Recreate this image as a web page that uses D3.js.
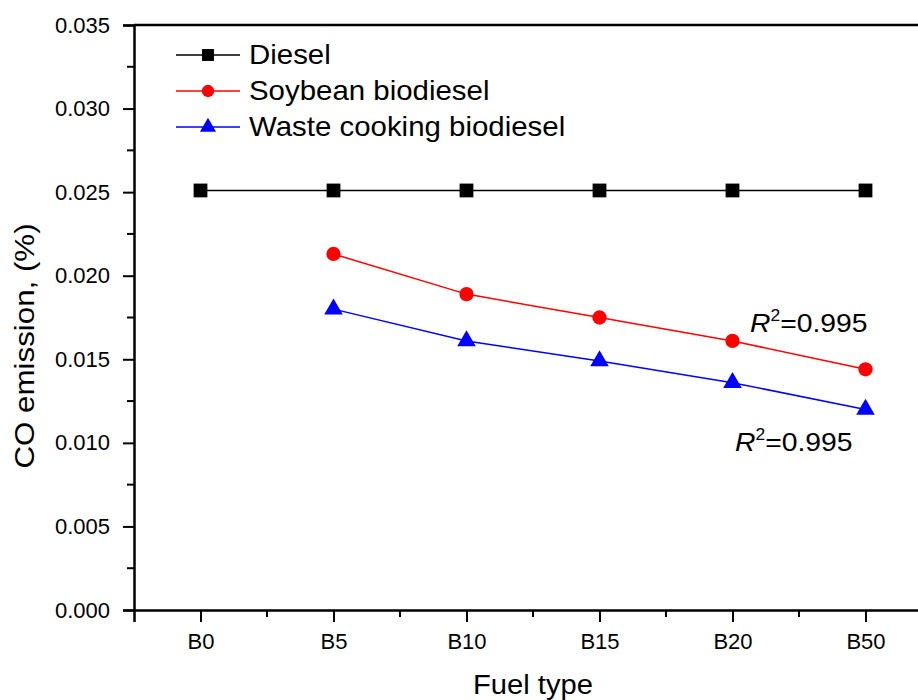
<!DOCTYPE html>
<html lang="en">
<head>
    <meta charset="UTF-8">
    <title>CO emission by fuel type</title>
    <style>
        body {
            margin: 0;
            background-color: #FFFFFF;
        }
        svg text {
            font-family: Arial, "Liberation Sans", sans-serif;
        }
    </style>
</head>
<body>
    <div id="chart"></div>

    <script src="https://d3js.org/d3.v7.min.js"></script>
    <script>
        const width = 918;
        const height = 700;

        // Chart data
        const fuelTypes = ["B0", "B5", "B10", "B15", "B20", "B50"];
        const diesel = [0.0251, 0.0251, 0.0251, 0.0251, 0.0251, 0.0251];
        const soybean = [null, 0.0213, 0.0189, 0.0175, 0.0161, 0.0144];
        const wasteCooking = [null, 0.0180, 0.0161, 0.0149, 0.0136, 0.0120];
        const yTicks = [0, 0.005, 0.010, 0.015, 0.020, 0.025, 0.030, 0.035];
        const r2Labels = ["=0.995", "=0.995"];

        const series = [
            { name: "Diesel", values: diesel, color: "#000000", symbol: d3.symbolSquare, size: 190 },
            { name: "Soybean biodiesel", values: soybean, color: "#FF0000", symbol: d3.symbolCircle, size: 160 },
            { name: "Waste cooking biodiesel", values: wasteCooking, color: "#0000FF", symbol: d3.symbolTriangle, size: 150 }
        ];

        const plotLeft = 134, plotTop = 25, plotBottom = 610;

        const svg = d3.select("#chart")
            .append("svg")
            .attr("width", width)
            .attr("height", height);

        // x runs half a category past each end, the right end is cut by the window
        const x = d3.scaleLinear()
            .domain([-0.5, fuelTypes.length - 0.5])
            .range([plotLeft, plotLeft + 133 * fuelTypes.length]);

        const y = d3.scaleLinear()
            .domain([0, 0.035])
            .range([plotBottom, plotTop]);

        // Top frame
        svg.append("line")
            .attr("x1", plotLeft).attr("x2", width)
            .attr("y1", plotTop).attr("y2", plotTop)
            .attr("stroke", "#000").attr("stroke-width", 2.5);

        // Y axis
        const yAxis = svg.append("g")
            .attr("transform", `translate(${plotLeft},0)`)
            .call(d3.axisLeft(y).tickValues(yTicks).tickFormat(d3.format(".3f")).tickSize(11).tickPadding(13));

        // minor y ticks
        yAxis.selectAll(".minor")
            .data(d3.range(0.0025, 0.035, 0.005))
            .enter().append("line")
            .attr("x1", -7).attr("x2", 0)
            .attr("y1", d => y(d)).attr("y2", d => y(d))
            .attr("stroke", "#000").attr("stroke-width", 2);

        // X axis
        const xAxis = svg.append("g")
            .attr("transform", `translate(0,${plotBottom})`)
            .call(d3.axisBottom(x).tickValues(d3.range(fuelTypes.length)).tickFormat(i => fuelTypes[i]).tickSize(12).tickPadding(11));

        xAxis.selectAll(".minor")
            .data(d3.range(0.5, fuelTypes.length, 1))
            .enter().append("line")
            .attr("x1", d => x(d)).attr("x2", d => x(d))
            .attr("y1", 0).attr("y2", 7)
            .attr("stroke", "#000").attr("stroke-width", 2);

        svg.selectAll(".domain").attr("stroke-width", 2.5);
        svg.selectAll(".tick line").attr("stroke-width", 2);
        svg.selectAll(".tick text")
            .attr("font-size", "22px")
            .attr("fill", "#000");

        // Axis titles (slightly wide lettering, like the original)
        svg.append("text")
            .attr("transform", "translate(533,694) scale(1.08,1)")
            .attr("text-anchor", "middle")
            .attr("font-size", "27px")
            .text("Fuel type");

        svg.append("text")
            .attr("transform", "translate(34,346) rotate(-90) scale(1.16,1)")
            .attr("text-anchor", "middle")
            .attr("font-size", "27px")
            .text("CO emission, (%)");

        // Series lines and markers
        const line = d3.line()
            .defined(d => d != null)
            .x((d, i) => x(i))
            .y(d => y(d));

        series.forEach(s => {
            svg.append("path")
                .datum(s.values)
                .attr("fill", "none")
                .attr("stroke", s.color)
                .attr("stroke-width", 1.5)
                .attr("d", line);

            svg.selectAll(null)
                .data(s.values.map((v, i) => ({ v, i })).filter(d => d.v != null))
                .enter().append("path")
                .attr("d", d3.symbol().type(s.symbol).size(s.size))
                .attr("transform", d => `translate(${x(d.i)},${y(d.v)})`)
                .attr("fill", s.color);
        });

        // Legend
        const legend = svg.append("g");
        series.forEach((s, i) => {
            const ly = 55 + i * 36;
            legend.append("line")
                .attr("x1", 176).attr("x2", 240)
                .attr("y1", ly).attr("y2", ly)
                .attr("stroke", s.color).attr("stroke-width", 1.5);
            legend.append("path")
                .attr("d", d3.symbol().type(s.symbol).size(s.size * 0.75))
                .attr("transform", `translate(208,${ly})`)
                .attr("fill", s.color);
            legend.append("text")
                .attr("transform", `translate(249,${ly + 9}) scale(1.09,1)`)
                .attr("font-size", "27px")
                .text(s.name);
        });

        // R squared labels
        const r2Pos = [[750, 332], [735, 451]];
        r2Labels.forEach((lab, i) => {
            const t = svg.append("text")
                .attr("transform", `translate(${r2Pos[i][0]},${r2Pos[i][1]}) scale(1.09,1)`)
                .attr("font-size", "26px");
            t.append("tspan").attr("font-style", "italic").text("R");
            t.append("tspan").attr("font-size", "16px").attr("dy", -11).text("2");
            t.append("tspan").attr("dy", 11).text(lab);
        });
    </script>
</body>
</html>
